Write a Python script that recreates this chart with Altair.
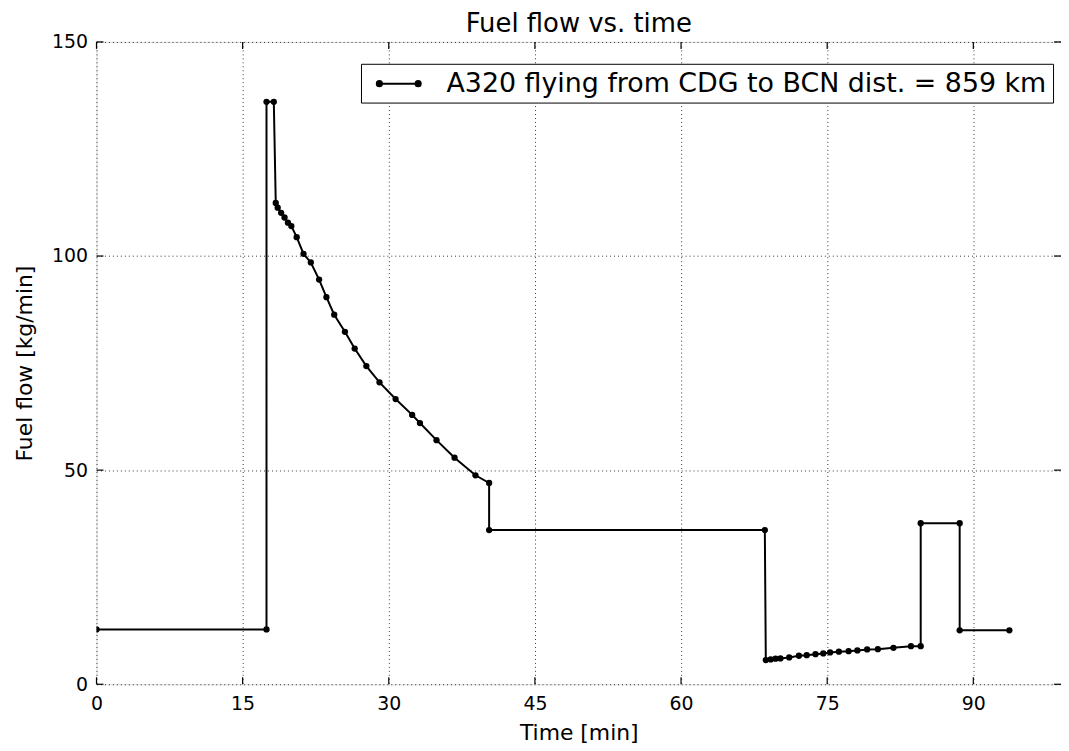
import altair as alt
import pandas as pd

# ---- data ----
time_min = [
    0.0, 17.45, 17.45, 18.2, 18.4, 18.6, 18.95, 19.3, 19.65, 20.0, 20.55, 21.25,
    22.0, 22.85, 23.6, 24.4, 25.5, 26.5, 27.7, 29.05, 30.7, 32.4, 33.2, 34.9,
    36.75, 38.9, 40.3, 40.3, 68.6, 68.7, 69.2, 69.7, 70.2, 71.1, 72.1, 72.9,
    73.8, 74.6, 75.3, 76.2, 77.2, 78.1, 79.1, 80.2, 81.8, 83.6, 84.6, 84.6,
    88.6, 88.6, 93.7,
]
fuel_flow = [
    12.8, 12.8, 136.0, 136.0, 112.4, 111.3, 110.1, 109.0, 107.8, 107.0, 104.4, 100.5,
    98.5, 94.5, 90.4, 86.3, 82.3, 78.4, 74.3, 70.5, 66.6, 62.9, 61.0, 57.0,
    52.9, 48.8, 47.0, 36.0, 36.0, 5.64, 5.8, 5.97, 6.04, 6.27, 6.66, 6.8,
    7.03, 7.2, 7.43, 7.6, 7.73, 7.9, 8.13, 8.2, 8.52, 8.9, 8.9, 37.6,
    37.6, 12.6, 12.6,
]
series_label = "A320 flying from CDG to BCN dist. = 859 km"
x_ticks = [0, 15, 30, 45, 60, 75, 90]
y_ticks = [0, 50, 100, 150]

df = pd.DataFrame({
    "t": time_min,
    "f": fuel_flow,
    "order": list(range(len(time_min))),
    "series": [series_label] * len(time_min),
})
xt = pd.DataFrame({"v": x_ticks})
yt = pd.DataFrame({"v": y_ticks})

W, H = 970, 646
FONT = "DejaVu Sans"

xscale = alt.Scale(domain=[0, 99], nice=False, zero=False)
yscale = alt.Scale(domain=[0, 150], nice=False)

x_axis = alt.Axis(values=x_ticks, title="Time [min]", grid=True, gridColor="black",
                  gridDash=[1, 3], gridWidth=0.8, domain=False, ticks=False,
                  labelFlush=False,
                  labelPadding=10, labelFontSize=19, labelFont=FONT, labelColor="black",
                  titleFontSize=22, titleFont=FONT, titleFontWeight="normal",
                  titleColor="black", titlePadding=10)
y_axis = alt.Axis(values=y_ticks, title="Fuel flow [kg/min]", grid=True, gridColor="black",
                  gridDash=[1, 3], gridWidth=0.8, domain=False, ticks=False,
                  labelFlush=False,
                  labelPadding=9, labelFontSize=19, labelFont=FONT, labelColor="black",
                  titleFontSize=22, titleFont=FONT, titleFontWeight="normal",
                  titleColor="black", titlePadding=15)

sym = ("M-1.5,0L1.5,0"
       "M-1.5,-0.2A0.2,0.2,0,1,1,-1.5,0.2A0.2,0.2,0,1,1,-1.5,-0.2Z"
       "M1.5,-0.2A0.2,0.2,0,1,1,1.5,0.2A0.2,0.2,0,1,1,1.5,-0.2Z")

color = alt.Color("series:N", scale=alt.Scale(range=["black"]),
                  legend=alt.Legend(title=None, orient="none", legendX=266, legendY=22,
                                    symbolType=sym, symbolSize=676, symbolStrokeWidth=2,
                                    symbolFillColor="black", symbolStrokeColor="black",
                                    symbolOffset=18,
                                    labelFontSize=27, labelFont=FONT, labelColor="black",
                                    labelOffset=34, labelLimit=1000,
                                    strokeColor="black", fillColor="white", padding=6,
                                    cornerRadius=0))

base = alt.Chart(df).encode(
    x=alt.X("t:Q", scale=xscale, axis=x_axis),
    y=alt.Y("f:Q", scale=yscale, axis=y_axis),
    order="order:Q",
    color=color,
)

line = base.mark_line(strokeWidth=2, clip=True)
pts = base.mark_point(filled=True, size=40, opacity=1, clip=True)

xticks_bottom = alt.Chart(xt).mark_rule(color="black", strokeWidth=1.2).encode(
    x=alt.X("v:Q", scale=xscale), y=alt.value(H), y2=alt.value(H - 7))
xticks_top = alt.Chart(xt).mark_rule(color="black", strokeWidth=1.2).encode(
    x=alt.X("v:Q", scale=xscale), y=alt.value(0), y2=alt.value(7))
yticks_left = alt.Chart(yt).mark_rule(color="black", strokeWidth=1.2).encode(
    y=alt.Y("v:Q", scale=yscale), x=alt.value(0), x2=alt.value(7))
yticks_right = alt.Chart(yt).mark_rule(color="black", strokeWidth=1.2).encode(
    y=alt.Y("v:Q", scale=yscale), x=alt.value(W), x2=alt.value(W - 7))

chart = alt.layer(line, pts, xticks_bottom, xticks_top, yticks_left, yticks_right).properties(
    width=W, height=H,
    title=alt.Title("Fuel flow vs. time", fontSize=26, font=FONT, fontWeight="normal",
                    color="black", offset=-4, frame="group"),
    autosize=alt.AutoSizeParams(type="none"),
    padding={"left": 89, "top": 32, "right": 0, "bottom": 63},
).configure_view(stroke="black", strokeWidth=1.5).configure(background="white")

chart.save("out.html", embed_options={"renderer": "svg", "actions": False})
